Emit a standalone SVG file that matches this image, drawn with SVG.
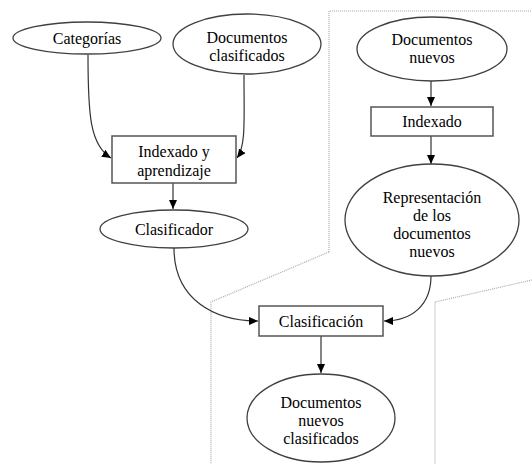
<svg xmlns="http://www.w3.org/2000/svg" width="532" height="464" viewBox="0 0 532 464">
<defs>
<style>
.n{fill:#fff;stroke:#404040;stroke-width:1.3}
.b{fill:#fff;stroke:#555;stroke-width:1.5}
.t{font-size:16px;fill:#000;text-anchor:middle}
.c{fill:none;stroke:#333;stroke-width:1.2}
.d{fill:none;stroke:#aaa;stroke-width:1.2;stroke-dasharray:1 1}
</style>
<marker id="ah" markerWidth="10" markerHeight="8" refX="9" refY="4" orient="auto" markerUnits="userSpaceOnUse">
<path d="M0,0 L9,4 L0,8 Z" fill="#000"/>
</marker>
</defs>
<rect width="532" height="464" fill="#fff"/>
<g id="regions">
<path class="d" d="M329,252 L329,11 L532,11"/>
<path class="d" d="M329,252 L211,302 L211,464"/>
<path class="d" d="M532,280 L435,302 L435,464"/>
</g>
<g id="connectors">
<path class="c" d="M88,55 C88,115 90,145 111,158" marker-end="url(#ah)"/>
<path class="c" d="M244,75 C244,120 246,146 237,158" marker-end="url(#ah)"/>
<path class="c" d="M173,183 L173,209" marker-end="url(#ah)"/>
<path class="c" d="M431,81 L431,106" marker-end="url(#ah)"/>
<path class="c" d="M431,136 L431,164" marker-end="url(#ah)"/>
<path class="c" d="M174,248 C174,300 215,321 258,321" marker-end="url(#ah)"/>
<path class="c" d="M431,276 C431,305 412,321 384,321" marker-end="url(#ah)"/>
<path class="c" d="M321,336 L321,373" marker-end="url(#ah)"/>
</g>
<g font-family="'Liberation Serif', 'DejaVu Serif', serif">
<g id="categorias">
<ellipse class="n" cx="87" cy="38" rx="74" ry="16"/>
<text class="t" x="87" y="44">Categorías</text>
</g>
<g id="doc-clasificados">
<ellipse class="n" cx="247" cy="44" rx="74" ry="30"/>
<text class="t" x="247" y="43">Documentos</text>
<text class="t" x="247" y="61">clasificados</text>
</g>
<g id="doc-nuevos">
<ellipse class="n" cx="432" cy="49" rx="75" ry="32"/>
<text class="t" x="432" y="45">Documentos</text>
<text class="t" x="432" y="63">nuevos</text>
</g>
<g id="indexado-aprendizaje">
<rect class="b" x="112" y="136" width="124" height="47"/>
<text class="t" x="174" y="157">Indexado y</text>
<text class="t" x="174" y="176">aprendizaje</text>
</g>
<g id="indexado">
<rect class="b" x="371" y="107" width="122" height="29"/>
<text class="t" x="432" y="127">Indexado</text>
</g>
<g id="clasificador">
<ellipse class="n" cx="174" cy="229" rx="74" ry="19"/>
<text class="t" x="174" y="235">Clasificador</text>
</g>
<g id="representacion">
<ellipse class="n" cx="432" cy="220" rx="87" ry="56"/>
<text class="t" x="432" y="203">Representación</text>
<text class="t" x="432" y="221">de los</text>
<text class="t" x="432" y="239">documentos</text>
<text class="t" x="432" y="257">nuevos</text>
</g>
<g id="clasificacion">
<rect class="b" x="259" y="306" width="124" height="30"/>
<text class="t" x="321" y="327">Clasificación</text>
</g>
<g id="doc-nuevos-clasificados">
<ellipse class="n" cx="321" cy="418" rx="74" ry="44"/>
<text class="t" x="321" y="408">Documentos</text>
<text class="t" x="321" y="426">nuevos</text>
<text class="t" x="321" y="444">clasificados</text>
</g>
</g>
</svg>
